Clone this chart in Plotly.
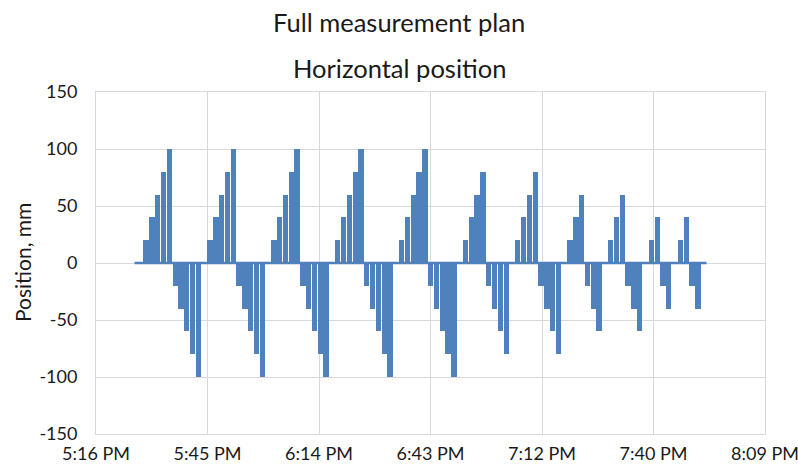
import plotly.graph_objects as go
import pandas as pd

# ---------------- data ----------------
log_date = "2019-06-12"
record_start = "17:26:45"      # first logged sample (at 0 mm)
first_step = "17:29:00"        # first commanded step
step_seconds = 90              # duration of each commanded step

# commanded horizontal position of each step, mm (one row per measurement cycle)
positions = [
    20, 40, 60, 80, 100, -20, -40, -60, -80, -100, 0,
    20, 40, 60, 80, 100, -20, -40, -60, -80, -100, 0,
    20, 40, 60, 80, 100, -20, -40, -60, -80, -100, 0,
    20, 40, 60, 80, 100, -20, -40, -60, -80, -100, 0,
    20, 40, 60, 80, 100, -20, -40, -60, -80, -100, 0,
    20, 40, 60, 80, -20, -40, -60, -80, 0,
    20, 40, 60, 80, -20, -40, -60, -80, 0,
    20, 40, 60, -20, -40, -60, 0,
    20, 40, 60, -20, -40, -60, 0,
    20, 40, -20, -40, 0,
    20, 40, -20, -40, 0,
]

tick_times = ["17:16:48", "17:45:36", "18:14:24", "18:43:12", "19:12:00", "19:40:48", "20:09:36"]
tick_labels = ["5:16 PM", "5:45 PM", "6:14 PM", "6:43 PM", "7:12 PM", "7:40 PM", "8:09 PM"]
y_ticks = [-150, -100, -50, 0, 50, 100, 150]

title_line1 = "Full measurement plan"
title_line2 = "Horizontal position"
y_title = "Position, mm"

# ---------------- build figure ----------------
BLUE = "#4F81BD"
GRID = "#D9D9D9"
FONT = "Lato"
TXT = "#1a1a1a"

t0 = pd.Timestamp(f"{log_date} {first_step}")
step = pd.Timedelta(seconds=step_seconds)
step_starts = [t0 + step * i for i in range(len(positions))]
step_centers = [s + step / 2 for s in step_starts]
t_rec = pd.Timestamp(f"{log_date} {record_start}")
t_end = step_starts[-1] + step

fig = go.Figure()

# baseline (samples at 0 mm)
fig.add_trace(go.Scatter(
    x=[t_rec, t_end], y=[0, 0], mode="lines",
    line=dict(color=BLUE, width=2.6), showlegend=False, hoverinfo="skip",
))

# commanded steps
fig.add_trace(go.Bar(
    x=step_centers, y=positions,
    width=[step_seconds * 1000 * 0.92] * len(positions),
    marker=dict(color=BLUE, line=dict(width=0)),
    showlegend=False,
))

x_ticks = [pd.Timestamp(f"{log_date} {t}") for t in tick_times]

# plot area target (pixels): x 96..765, y 92..434
PL, PR, PT, PB = 96, 765, 92, 434
fig.update_layout(
    width=798, height=469,
    margin=dict(l=PL, r=798 - PR, t=PT, b=469 - PB, autoexpand=False),
    paper_bgcolor="white", plot_bgcolor="white",
    font=dict(family=FONT, color=TXT, size=18),
    bargap=0,
    showlegend=False,
)

fig.update_xaxes(
    type="date", automargin=False, ticklabeloverflow="allow",
    range=[x_ticks[0], x_ticks[-1]],
    tickmode="array", tickvals=x_ticks, ticktext=tick_labels,
    showgrid=True, gridcolor=GRID, gridwidth=1,
    showline=True, linecolor=GRID, linewidth=1, mirror=True,
    ticks="outside", ticklen=3, tickcolor="rgba(0,0,0,0)",
    tickfont=dict(size=18, family=FONT, color=TXT),
    zeroline=False,
)
fig.update_yaxes(
    automargin=False, ticklabeloverflow="allow",
    range=[-150, 150],
    tickmode="array", tickvals=y_ticks, ticktext=[str(v) for v in y_ticks],
    showgrid=True, gridcolor=GRID, gridwidth=1,
    showline=True, linecolor=GRID, linewidth=1, mirror=True,
    ticks="outside", ticklen=14, tickcolor="rgba(0,0,0,0)",
    tickfont=dict(size=18, family=FONT, color=TXT),
    zeroline=False,
)

W, H = PR - PL, PB - PT
fig.add_annotation(text=title_line1, xref="paper", yref="paper",
                   x=(399 - PL) / W, y=(PB - 22) / H,
                   xanchor="center", yanchor="middle", showarrow=False,
                   font=dict(size=25.5, family=FONT, color=TXT))
fig.add_annotation(text=title_line2, xref="paper", yref="paper",
                   x=(399 - PL) / W, y=(PB - 68) / H,
                   xanchor="center", yanchor="middle", showarrow=False,
                   font=dict(size=25.5, family=FONT, color=TXT))
fig.add_annotation(text=y_title, xref="paper", yref="paper",
                   x=(22 - PL) / W, y=0.5, textangle=-90,
                   xanchor="center", yanchor="middle", showarrow=False,
                   font=dict(size=21, family=FONT, color=TXT))

fig.write_html("out.html")
